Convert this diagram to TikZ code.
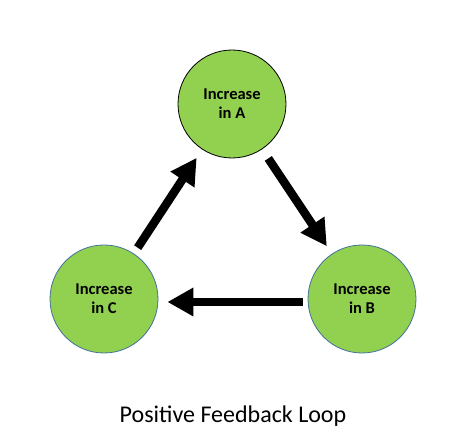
\documentclass[tikz,border=0pt]{standalone}
\usepackage{fontspec}
\setmainfont{Carlito}
\usepackage{xcolor}
\usepackage{tikz}
\usetikzlibrary{arrows.meta}
\definecolor{loopgreen}{RGB}{146,208,80}
\definecolor{rimblue}{RGB}{65,113,156}

\begin{document}
\begin{tikzpicture}[x=1pt,y=1pt,
  stage/.style={circle,fill=loopgreen,line width=0.8pt,minimum size=108pt,inner sep=0pt,
                align=center,font=\fontsize{16.5}{19}\selectfont\bfseries},
  push/.style={line width=8.5pt,-{Triangle[length=26pt,width=27pt]}}]

  \useasboundingbox (0,0) rectangle (467,447);

  \node[stage,draw=black] (incA) at (232,343) {Increase\\in A};
  \node[stage,draw=rimblue] (incB) at (362,148) {Increase\\in B};
  \node[stage,draw=rimblue] (incC) at (104,148) {Increase\\in C};

  \draw[push,shorten <=11pt,shorten >=9pt] (incA) -- (incB);
  \draw[push,shorten <=5pt,shorten >=9pt] ([yshift=-3pt]incB.west) -- ([yshift=-3pt]incC.east);
  \draw[push,shorten <=7pt,shorten >=10pt] (incC) -- (incA);

  \node[font=\fontsize{24}{28}\selectfont] (title) at (233,31) {Positive Feedback Loop};

\end{tikzpicture}
\end{document}
